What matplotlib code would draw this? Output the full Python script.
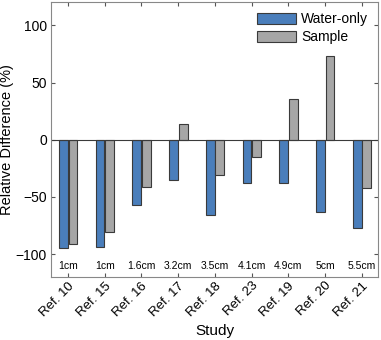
import numpy as np
import matplotlib.pyplot as plt

plt.rcParams['font.family'] = ['Liberation Sans', 'DejaVu Sans']

# Relative difference per study
studies = ['Ref. 10', 'Ref. 15', 'Ref. 16', 'Ref. 17', 'Ref. 18',
           'Ref. 23', 'Ref. 19', 'Ref. 20', 'Ref. 21']
depths = ['1cm', '1cm', '1.6cm', '3.2cm', '3.5cm', '4.1cm', '4.9cm', '5cm', '5.5cm']
water_only = [-95, -94, -57, -35, -66, -38, -38, -63, -77]
sample = [-91, -81, -41, 14, -31, -15, 36, 73, -42]

x = np.arange(len(studies))
w = 0.24

fig = plt.figure(figsize=(3.81, 3.40), dpi=100)
ax = fig.add_axes([0.134, 0.185, 0.858, 0.808])

ax.bar(x - 0.125, water_only, w, color='#4a7ebb', edgecolor='#3a3a3a',
       linewidth=0.8, label='Water-only')
ax.bar(x + 0.135, sample, w, color='#a6a6a6', edgecolor='#3a3a3a',
       linewidth=0.8, label='Sample')

# depth labels just above the bottom spine
for xi, d in zip(x, depths):
    ax.text(xi, -110, d, ha='center', va='center', fontsize=7.5)

ax.axhline(0, color='#3a3a3a', linewidth=0.8)
ax.set_xlim(-0.46, 8.44)
ax.set_ylim(-120, 120)
ax.set_yticks([-100, -50, 0, 50, 100])
ax.set_xticks(x)
ax.set_xticklabels(studies, rotation=45, ha='right', rotation_mode='anchor')
ax.tick_params(direction='in', top=True, right=True, labelsize=10, length=3,
               color='#555555', pad=3)
ax.tick_params(axis='x', labelsize=9.5, pad=2)
for s in ax.spines.values():
    s.set_color('#888888')

ax.set_xlabel('Study', fontsize=11)
ax.set_ylabel('Relative Difference (%)', fontsize=10.5)
ax.yaxis.set_label_coords(-0.113, 0.5)
ax.legend(loc='upper right', frameon=False, fontsize=10, handlelength=2.8,
          handleheight=0.9, handletextpad=0.4, borderaxespad=0.3, labelspacing=0.3)

fig.savefig('out.png', dpi=100)
